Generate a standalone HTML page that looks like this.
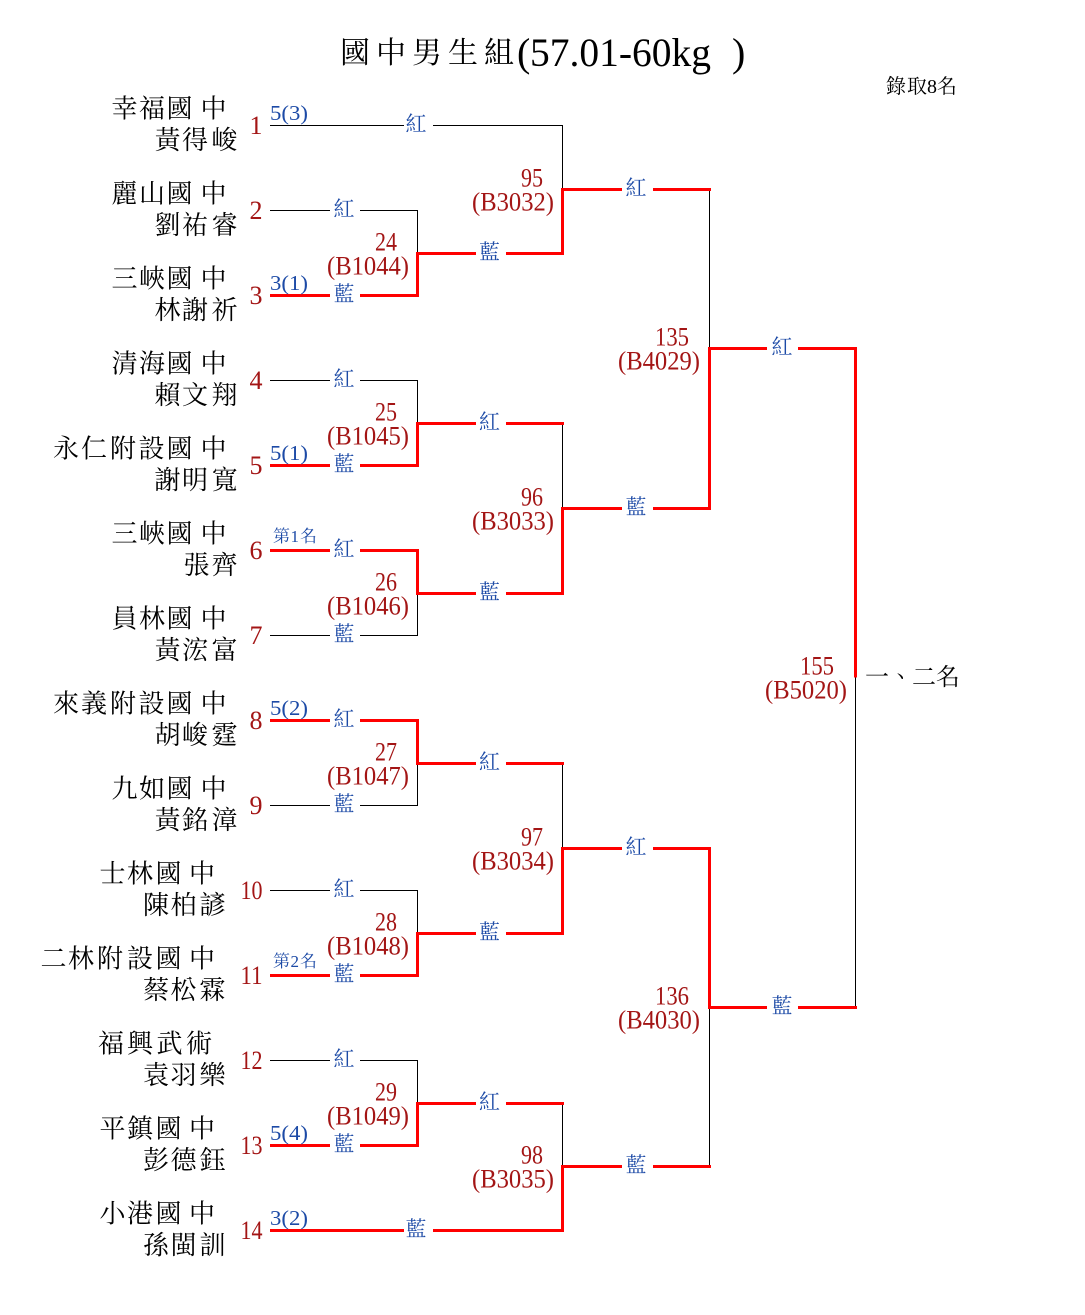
<!DOCTYPE html>
<html>
<head>
<meta charset="utf-8">
<style>
  html,body{margin:0;padding:0;background:#fff;}
  svg{display:block;}
  .cjk{font-family:"Liberation Serif","Noto Serif CJK TC","Noto Serif CJK SC",serif;}
  .lat{font-family:"Liberation Serif",serif;}
</style>
</head>
<body>
<svg width="1085" height="1315" viewBox="0 0 1085 1315" xmlns="http://www.w3.org/2000/svg">
<rect width="1085" height="1315" fill="#fff"/>

<!-- Title -->
<g fill="#000">
  <text class="cjk" font-size="30" x="340 376 412 448 484" y="63">國中男生組</text>
  <text class="lat" font-size="40" x="517" y="66">(</text>
  <text class="lat" font-size="40" x="530" y="66" textLength="181" lengthAdjust="spacingAndGlyphs">57.01-60kg</text>
  <text class="lat" font-size="40" x="732" y="66">)</text>
</g>
<text class="cjk" font-size="20" x="886 907 927 937" y="93" fill="#000">錄取8名</text>

<!-- black lines -->
<path fill="none" stroke="#000" stroke-width="1" d="M270 125.5H562.5V189.5 M270 210.5H417.5V253.5 M270 380.5H417.5V423.5 M562.5 423.5V508.5 M270 635.5H417.5V593.5 M270 805.5H417.5V763.5 M562.5 763.5V848.5 M270 890.5H417.5V933.5 M270 1060.5H417.5V1103.5 M562.5 1103.5V1166.5 M709.5 189.5V348.5 M709.5 1007.5V1166.5 M855.5 677.5V1007.5"/>

<!-- red lines -->
<g fill="none" stroke="#ff0000" stroke-width="3" stroke-linejoin="miter">
  <path d="M270 295.5H417.5V253.5H562.5V189.5H711"/>
  <path d="M270 465.5H417.5V423.5H564"/>
  <path d="M270 550.5H417.5V593.5H562.5V508.5H709.5V348.5H855.5V677.5"/>
  <path d="M270 720.5H417.5V763.5H564"/>
  <path d="M270 975.5H417.5V933.5H562.5V848.5H709.5V1007.5H857"/>
  <path d="M270 1145.5H417.5V1103.5H564"/>
  <path d="M270 1230.5H562.5V1166.5H711"/>
</g>

<!-- white gaps for labels -->
<g fill="#fff">
  <rect x="330" y="205" width="30" height="11"/>
  <rect x="330" y="290" width="30" height="11"/>
  <rect x="330" y="375" width="30" height="11"/>
  <rect x="330" y="460" width="30" height="11"/>
  <rect x="330" y="545" width="30" height="11"/>
  <rect x="330" y="630" width="30" height="11"/>
  <rect x="330" y="715" width="30" height="11"/>
  <rect x="330" y="800" width="30" height="11"/>
  <rect x="330" y="885" width="30" height="11"/>
  <rect x="330" y="970" width="30" height="11"/>
  <rect x="330" y="1055" width="30" height="11"/>
  <rect x="330" y="1140" width="30" height="11"/>
  <rect x="404" y="120" width="29" height="11"/>
  <rect x="404" y="1225" width="29" height="11"/>
  <rect x="476" y="248" width="30" height="11"/>
  <rect x="476" y="418" width="30" height="11"/>
  <rect x="476" y="588" width="30" height="11"/>
  <rect x="476" y="758" width="30" height="11"/>
  <rect x="476" y="928" width="30" height="11"/>
  <rect x="476" y="1098" width="30" height="11"/>
  <rect x="622" y="184" width="31" height="11"/>
  <rect x="622" y="503" width="31" height="11"/>
  <rect x="622" y="843" width="31" height="11"/>
  <rect x="622" y="1161" width="31" height="11"/>
  <rect x="767" y="343" width="31" height="11"/>
  <rect x="767" y="1002" width="31" height="11"/>
</g>

<!-- 紅/藍 labels -->
<g class="cjk" font-size="21" fill="#1c4aa6" text-anchor="middle">
  <text x="344" y="216">紅</text>
  <text x="344" y="301">藍</text>
  <text x="344" y="386">紅</text>
  <text x="344" y="471">藍</text>
  <text x="344" y="556">紅</text>
  <text x="344" y="641">藍</text>
  <text x="344" y="726">紅</text>
  <text x="344" y="811">藍</text>
  <text x="344" y="896">紅</text>
  <text x="344" y="981">藍</text>
  <text x="344" y="1066">紅</text>
  <text x="344" y="1151">藍</text>
  <text x="416" y="131">紅</text>
  <text x="416" y="1236">藍</text>
  <text x="489.5" y="259">藍</text>
  <text x="489.5" y="429">紅</text>
  <text x="489.5" y="599">藍</text>
  <text x="489.5" y="769">紅</text>
  <text x="489.5" y="939">藍</text>
  <text x="489.5" y="1109">紅</text>
  <text x="636" y="195">紅</text>
  <text x="636" y="514">藍</text>
  <text x="636" y="854">紅</text>
  <text x="636" y="1172">藍</text>
  <text x="782" y="354">紅</text>
  <text x="782" y="1013">藍</text>
</g>

<!-- seed labels -->
<g class="lat" font-size="21" fill="#1c4aa6">
  <text x="270" y="120" textLength="38" lengthAdjust="spacingAndGlyphs">5(3)</text>
  <text x="270" y="290" textLength="38" lengthAdjust="spacingAndGlyphs">3(1)</text>
  <text x="270" y="460" textLength="38" lengthAdjust="spacingAndGlyphs">5(1)</text>
  <text x="270" y="715" textLength="38" lengthAdjust="spacingAndGlyphs">5(2)</text>
  <text x="270" y="1140" textLength="38" lengthAdjust="spacingAndGlyphs">5(4)</text>
  <text x="270" y="1225" textLength="38" lengthAdjust="spacingAndGlyphs">3(2)</text>
</g>
<g class="cjk" font-size="17" fill="#1c4aa6">
  <text x="273 290.5 300" y="542">第1名</text>
  <text x="273 290.5 300" y="967">第2名</text>
</g>

<!-- match labels -->
<g class="lat" font-size="26" fill="#a31515">
  <text x="375" y="250.5" textLength="22" lengthAdjust="spacingAndGlyphs">24</text>
  <text x="327" y="274.5" textLength="82" lengthAdjust="spacingAndGlyphs">(B1044)</text>
  <text x="375" y="420.5" textLength="22" lengthAdjust="spacingAndGlyphs">25</text>
  <text x="327" y="444.5" textLength="82" lengthAdjust="spacingAndGlyphs">(B1045)</text>
  <text x="375" y="590.5" textLength="22" lengthAdjust="spacingAndGlyphs">26</text>
  <text x="327" y="614.5" textLength="82" lengthAdjust="spacingAndGlyphs">(B1046)</text>
  <text x="375" y="760.5" textLength="22" lengthAdjust="spacingAndGlyphs">27</text>
  <text x="327" y="784.5" textLength="82" lengthAdjust="spacingAndGlyphs">(B1047)</text>
  <text x="375" y="930.5" textLength="22" lengthAdjust="spacingAndGlyphs">28</text>
  <text x="327" y="954.5" textLength="82" lengthAdjust="spacingAndGlyphs">(B1048)</text>
  <text x="375" y="1100.5" textLength="22" lengthAdjust="spacingAndGlyphs">29</text>
  <text x="327" y="1124.5" textLength="82" lengthAdjust="spacingAndGlyphs">(B1049)</text>

  <text x="521" y="186.5" textLength="22" lengthAdjust="spacingAndGlyphs">95</text>
  <text x="472" y="210.5" textLength="82" lengthAdjust="spacingAndGlyphs">(B3032)</text>
  <text x="521" y="505.5" textLength="22" lengthAdjust="spacingAndGlyphs">96</text>
  <text x="472" y="529.5" textLength="82" lengthAdjust="spacingAndGlyphs">(B3033)</text>
  <text x="521" y="845.5" textLength="22" lengthAdjust="spacingAndGlyphs">97</text>
  <text x="472" y="869.5" textLength="82" lengthAdjust="spacingAndGlyphs">(B3034)</text>
  <text x="521" y="1163.5" textLength="22" lengthAdjust="spacingAndGlyphs">98</text>
  <text x="472" y="1187.5" textLength="82" lengthAdjust="spacingAndGlyphs">(B3035)</text>

  <text x="655" y="345.5" textLength="34" lengthAdjust="spacingAndGlyphs">135</text>
  <text x="618" y="369.5" textLength="82" lengthAdjust="spacingAndGlyphs">(B4029)</text>
  <text x="655" y="1004.5" textLength="34" lengthAdjust="spacingAndGlyphs">136</text>
  <text x="618" y="1028.5" textLength="82" lengthAdjust="spacingAndGlyphs">(B4030)</text>

  <text x="800" y="674.5" textLength="34" lengthAdjust="spacingAndGlyphs">155</text>
  <text x="765" y="698.5" textLength="82" lengthAdjust="spacingAndGlyphs">(B5020)</text>
</g>

<text class="cjk" font-size="24" x="865 889 912 936" y="685" fill="#000">一、二名</text>

<!-- seat numbers -->
<g class="lat" font-size="26" fill="#a31515">
  <text x="262.5" y="134" text-anchor="end">1</text>
  <text x="262.5" y="219" text-anchor="end">2</text>
  <text x="262.5" y="304" text-anchor="end">3</text>
  <text x="262.5" y="389" text-anchor="end">4</text>
  <text x="262.5" y="474" text-anchor="end">5</text>
  <text x="262.5" y="559" text-anchor="end">6</text>
  <text x="262.5" y="644" text-anchor="end">7</text>
  <text x="262.5" y="729" text-anchor="end">8</text>
  <text x="262.5" y="814" text-anchor="end">9</text>
  <text x="240.5" y="899" textLength="22" lengthAdjust="spacingAndGlyphs">10</text>
  <text x="240.5" y="984" textLength="22" lengthAdjust="spacingAndGlyphs">11</text>
  <text x="240.5" y="1069" textLength="22" lengthAdjust="spacingAndGlyphs">12</text>
  <text x="240.5" y="1154" textLength="22" lengthAdjust="spacingAndGlyphs">13</text>
  <text x="240.5" y="1239" textLength="22" lengthAdjust="spacingAndGlyphs">14</text>
</g>

<!-- names -->
<g class="cjk" font-size="26" fill="#000">
  <text x="111.5 139 166.5 200.5" y="117.5">幸福國中</text>
  <text x="154.5 182 211.5" y="149">黃得峻</text>

  <text x="111.5 139 166.5 200.5" y="202.5">麗山國中</text>
  <text x="154.5 182 211.5" y="234">劉祐睿</text>

  <text x="111.5 139 166.5 200.5" y="287.5">三峽國中</text>
  <text x="154.5 182 211.5" y="319">林謝祈</text>

  <text x="111.5 139 166.5 200.5" y="372.5">清海國中</text>
  <text x="154.5 182 211.5" y="404">賴文翔</text>

  <text x="53 81 110 138.5 166.5 200.5" y="457.5">永仁附設國中</text>
  <text x="154.5 182 211.5" y="489">謝明寬</text>

  <text x="111.5 139 166.5 200.5" y="542.5">三峽國中</text>
  <text x="183.5 211.5" y="574">張齊</text>

  <text x="111.5 139 166.5 200.5" y="627.5">員林國中</text>
  <text x="154.5 182 211.5" y="659">黃浤富</text>

  <text x="53 81 110 138.5 166.5 200.5" y="712.5">來義附設國中</text>
  <text x="154.5 182 211.5" y="744">胡峻霆</text>

  <text x="111.5 139 166.5 200.5" y="797.5">九如國中</text>
  <text x="154.5 182 211.5" y="829">黃銘漳</text>

  <text x="99.5 127 155.5 189" y="882.5">士林國中</text>
  <text x="143 170.5 199.5" y="914">陳柏諺</text>

  <text x="40.5 68 97 127 155.5 189" y="967.5">二林附設國中</text>
  <text x="143 170.5 199.5" y="999">蔡松霖</text>

  <text x="98 127 156.5 186" y="1052.5">福興武術</text>
  <text x="143 170.5 199.5" y="1084">袁羽樂</text>

  <text x="99.5 127 155.5 189" y="1137.5">平鎮國中</text>
  <text x="143 170.5 199.5" y="1169">彭德鈺</text>

  <text x="99.5 127 155.5 189" y="1222.5">小港國中</text>
  <text x="143 170.5 199.5" y="1254">孫閩訓</text>
</g>
</svg>
</body>
</html>
